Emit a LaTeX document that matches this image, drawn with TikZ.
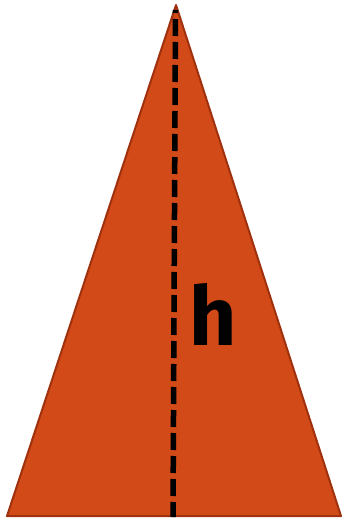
\documentclass[tikz,border=0pt]{standalone}
\usepackage{fontspec}
\setsansfont{Fira Sans}
\usepackage{xcolor}
\usetikzlibrary{positioning}

\definecolor{conefill}{HTML}{D14A17}
\definecolor{coneedge}{HTML}{A0310E}

\begin{document}
\begin{tikzpicture}[x=1pt, y=-1pt]
    \useasboundingbox (0,0) rectangle (342,519);
    % Triangle
    \coordinate (apex) at (176,5);
    \coordinate (left) at (7,516);
    \coordinate (right) at (341,516);
    \fill[conefill] (apex) -- (right) -- (left) -- cycle;
    \draw[coneedge, line width=2pt, line join=round] (apex) -- (right) -- (left) -- cycle;

    % Height
    \coordinate (top) at (175.5,10);
    \coordinate (foot) at (173,517);
    \draw[black, line width=5.5pt, dash pattern=on 17pt off 6pt, dash phase=14pt] (top) -- (foot);
    \node[font=\sffamily\bfseries\fontsize{82}{82}\selectfont] (hlabel) at (213,314) {h};
\end{tikzpicture}
\end{document}
